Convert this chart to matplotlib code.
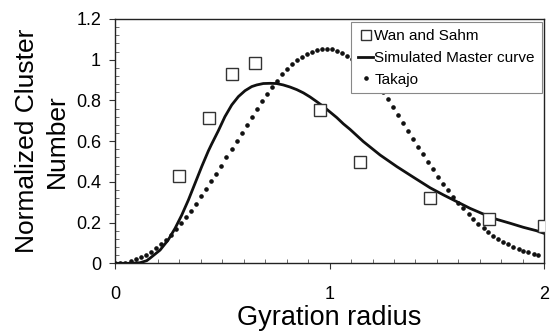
import matplotlib
matplotlib.use("Agg")
import matplotlib.pyplot as plt
from matplotlib.lines import Line2D

plt.rcParams['font.family'] = ['Liberation Sans', 'DejaVu Sans']

# Wan and Sahm measurements
wan_x = [0.30, 0.436, 0.546, 0.654, 0.953, 1.14, 1.468, 1.741, 1.997]
wan_y = [0.43, 0.715, 0.93, 0.985, 0.753, 0.50, 0.323, 0.216, 0.183]

# simulated master curve
sim_x = [0.0, 0.07, 0.117, 0.148, 0.163, 0.21, 0.248, 0.28, 0.311, 0.342,
         0.373, 0.404, 0.435, 0.45, 0.481, 0.512, 0.544, 0.575, 0.606, 0.637,
         0.66, 0.691, 0.722, 0.753, 0.784, 0.815, 0.847, 0.878, 0.909, 0.94,
         0.971, 1.002, 1.033, 1.064, 1.095, 1.157, 1.235, 1.313, 1.39, 1.468,
         1.53, 1.592, 1.654, 1.716, 1.778, 1.84, 1.902, 1.964, 2.0]
sim_y = [0.0, 0.0, 0.003, 0.013, 0.025, 0.065, 0.115, 0.172, 0.237, 0.311,
         0.393, 0.475, 0.552, 0.585, 0.65, 0.72, 0.778, 0.819, 0.848, 0.868,
         0.876, 0.883, 0.884, 0.883, 0.876, 0.866, 0.853, 0.837, 0.817, 0.794,
         0.77, 0.743, 0.716, 0.685, 0.658, 0.598, 0.532, 0.475, 0.423, 0.371,
         0.336, 0.303, 0.27, 0.242, 0.216, 0.197, 0.177, 0.16, 0.147]

# Takajo distribution
tak_x = [0.0, 0.023, 0.047, 0.073, 0.096, 0.12, 0.143, 0.166, 0.19, 0.214,
         0.236, 0.26, 0.283, 0.307, 0.33, 0.354, 0.377, 0.40, 0.424, 0.447,
         0.47, 0.494, 0.517, 0.544, 0.567, 0.59, 0.614, 0.637, 0.66, 0.684,
         0.707, 0.73, 0.753, 0.777, 0.80, 0.823, 0.847, 0.87, 0.893, 0.917,
         0.94, 0.963, 0.987, 1.01, 1.033, 1.056, 1.08, 1.103, 1.13, 1.15,
         1.18, 1.20, 1.23, 1.25, 1.27, 1.297, 1.32, 1.344, 1.367, 1.39,
         1.413, 1.437, 1.46, 1.483, 1.507, 1.53, 1.553, 1.577, 1.60, 1.623,
         1.647, 1.67, 1.693, 1.717, 1.74, 1.763, 1.786, 1.81, 1.833, 1.856,
         1.88, 1.903, 1.926, 1.95, 1.973]
tak_y = [0.0, 0.0, 0.003, 0.011, 0.020, 0.029, 0.042, 0.057, 0.075, 0.093,
         0.114, 0.141, 0.167, 0.198, 0.228, 0.258, 0.293, 0.329, 0.365, 0.403,
         0.44, 0.48, 0.521, 0.562, 0.602, 0.642, 0.681, 0.72, 0.758, 0.796,
         0.832, 0.868, 0.897, 0.929, 0.953, 0.978, 0.999, 1.015, 1.03, 1.04,
         1.048, 1.053, 1.055, 1.052, 1.043, 1.033, 1.02, 1.005, 0.99, 0.965,
         0.935, 0.91, 0.87, 0.84, 0.805, 0.767, 0.729, 0.688, 0.652, 0.612,
         0.573, 0.537, 0.499, 0.462, 0.426, 0.39, 0.36, 0.327, 0.298, 0.27,
         0.242, 0.216, 0.193, 0.172, 0.154, 0.136, 0.119, 0.106, 0.093, 0.082,
         0.072, 0.062, 0.054, 0.046, 0.039]

x_ticks = [0, 1, 2]
x_labels = ['0', '1', '2']
y_ticks = [0, 0.2, 0.4, 0.6, 0.8, 1.0, 1.2]
y_labels = ['0', '0.2', '0.4', '0.6', '0.8', '1', '1.2']

fig = plt.figure(figsize=(5.51, 3.32), dpi=100)
ax = fig.add_axes([0.2087, 0.2069, 0.7791, 0.7359])

ax.plot(tak_x, tak_y, linestyle='none', marker='o', markersize=2.3,
        color='#111111', zorder=2)
ax.plot(sim_x, sim_y, color='#111111', linewidth=2.0, zorder=3)
ax.plot(wan_x, wan_y, linestyle='none', marker='s', markersize=8,
        markerfacecolor='white', markeredgecolor='#333333',
        markeredgewidth=1.0, zorder=4)

ax.set_xlim(0, 2)
ax.set_ylim(0, 1.2)
ax.set_xticks(x_ticks)
ax.set_xticklabels(x_labels)
ax.set_yticks(y_ticks)
ax.set_yticklabels(y_labels)
ax.set_xticks([i / 10 for i in range(21)], minor=True)
ax.set_yticks([i * 0.04 for i in range(31)], minor=True)

ax.tick_params(axis='both', which='major', direction='out', length=4,
               width=0.8, labelsize=13, color='#333333')
ax.tick_params(axis='x', which='major', pad=12)
ax.tick_params(axis='y', which='major', pad=6)
ax.tick_params(axis='both', which='minor', direction='in', length=3,
               width=0.6, color='#555555')

for sp in ax.spines.values():
    sp.set_linewidth(1.0)
    sp.set_color('#222222')

ax.set_xlabel('Gyration radius', fontsize=19.5, labelpad=2)
ax.set_ylabel('Normalized Cluster\nNumber', fontsize=19, labelpad=5,
              linespacing=1.3)

handles = [
    Line2D([], [], linestyle='none', marker='s', markersize=7,
           markerfacecolor='white', markeredgecolor='#333333',
           markeredgewidth=1.0),
    Line2D([], [], color='#111111', linewidth=2.0),
    Line2D([], [], linestyle='none', marker='o', markersize=2.3,
           color='#111111'),
]
leg = ax.legend(handles, ['Wan and Sahm', 'Simulated Master curve', 'Takajo'],
                loc='upper right', bbox_to_anchor=(0.994, 0.986),
                borderaxespad=0, fontsize=11, handlelength=0.95,
                handletextpad=0.1, labelspacing=0.5, borderpad=0.45,
                fancybox=False, framealpha=1, edgecolor='#888888')
leg.get_frame().set_linewidth(0.8)
leg.set_zorder(5)

plt.savefig('out.png', dpi=100)
